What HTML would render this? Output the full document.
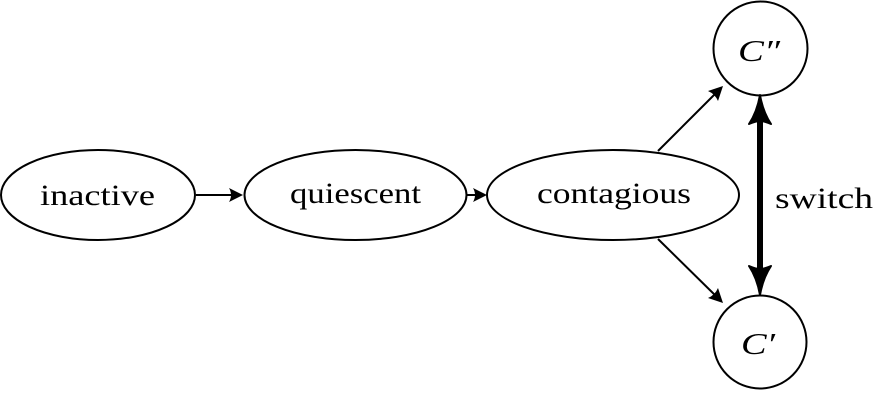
<!DOCTYPE html>
<html><head><meta charset="utf-8"><style>
html,body{margin:0;padding:0;background:#fff;}
svg{display:block;}
text{font-family:"Liberation Serif",serif;fill:#000;}
</style></head><body>
<svg width="888" height="400" viewBox="0 0 888 400" xmlns="http://www.w3.org/2000/svg">
<g fill="none" stroke="#000" stroke-width="2">
<ellipse cx="98" cy="195" rx="97" ry="45"/>
<ellipse cx="355.5" cy="195" rx="111" ry="45"/>
<ellipse cx="613" cy="195" rx="126" ry="45"/>
<circle cx="760.5" cy="48.5" r="47"/>
<circle cx="760" cy="342" r="46.5"/>
<line x1="196" y1="195" x2="240" y2="195"/>
<line x1="467" y1="195" x2="484" y2="195"/>
<line x1="658" y1="151" x2="720" y2="89"/>
<line x1="658" y1="239" x2="720" y2="300"/>
</g>
<g fill="#000">
<path d="M243,195 L229,188 Q233,195 229,202 Z"/>
<path d="M487,195 L473,188 Q477,195 473,202 Z"/>
<path d="M723,86 L708,91 Q715,94 718,101 Z"/>
<path d="M723,303 L718,288 Q715,295 708,298 Z"/>
</g>
<line x1="760" y1="110" x2="760" y2="280" stroke="#000" stroke-width="6"/>
<path d="M760,95 Q763,112 771,124 Q764,121 760,121 Q756,121 749,124 Q757,112 760,95 Z" fill="#000" stroke="#000" stroke-width="2" stroke-linejoin="round"/>
<path d="M760,295 Q763,278 771,266 Q764,269 760,269 Q756,269 749,266 Q757,278 760,295 Z" fill="#000" stroke="#000" stroke-width="2" stroke-linejoin="round"/>
<text x="40" y="205" font-size="30" textLength="115" lengthAdjust="spacingAndGlyphs">inactive</text>
<text x="290" y="203" font-size="30" textLength="131" lengthAdjust="spacingAndGlyphs">quiescent</text>
<text x="537" y="203" font-size="30" textLength="154" lengthAdjust="spacingAndGlyphs">contagious</text>
<text x="738" y="61" font-size="31" font-style="italic" textLength="42" lengthAdjust="spacingAndGlyphs">C″</text>
<text x="741" y="354" font-size="31" font-style="italic" textLength="34" lengthAdjust="spacingAndGlyphs">C′</text>
<text x="775" y="208" font-size="30" textLength="98" lengthAdjust="spacingAndGlyphs">switch</text>
</svg>
</body></html>
